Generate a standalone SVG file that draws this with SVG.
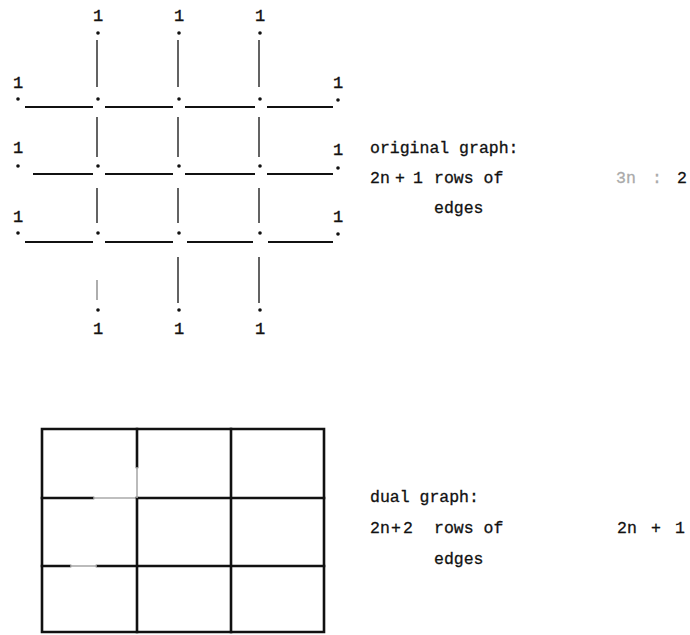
<svg xmlns="http://www.w3.org/2000/svg" width="690" height="635" viewBox="0 0 690 635">
<style>
  .bg{fill:#fff}
  .dot{fill:#111}
  .lbl{font-family:"Liberation Mono","DejaVu Sans Mono",monospace;font-size:17px;fill:#111;stroke:#111;stroke-width:0.4;text-anchor:middle}
  .txt{font-family:"Liberation Mono","DejaVu Sans Mono",monospace;font-size:16.5px;fill:#111;stroke:#111;stroke-width:0.3}
  .h{stroke:#111;stroke-width:2;fill:none}
  .v{stroke:#222;stroke-width:1.4;fill:none}
  .vf{stroke:#777;stroke-width:1.2;fill:none}
  .d{stroke:#111;stroke-width:2.6;fill:none;stroke-linecap:square}
  .df{stroke:#aaa;stroke-width:1.6;fill:none}
  .fade{fill:#aaa;stroke:#aaa}
</style>
<rect class="bg" x="0" y="0" width="690" height="635"/>

<!-- original graph: edges -->
<g id="connectors">
  <path class="h" d="M25 107H93M105 107H173M185 107H255M267 107H333"/>
  <path class="h" d="M33 174H93M105 174H173M185 174H255M267 174H333"/>
  <path class="h" d="M25 242H93M105 242H173M187 242H253M268 242H333"/>
  <path class="v" d="M97 40V87M178 40V87M259 40V87"/>
  <path class="v" d="M97 117V157M178 117V157M259 117V157"/>
  <path class="v" d="M97 188V223M178 188V223M259 188V223"/>
  <path class="vf" d="M97 280V300"/>
  <path class="v" d="M178 257V303M259 257V303"/>
</g>

<!-- original graph: vertices -->
<g id="t1"><text class="lbl" x="98" y="21">1</text><circle class="dot" cx="98" cy="33" r="1.8"/></g>
<g id="t2"><text class="lbl" x="179" y="21">1</text><circle class="dot" cx="179" cy="33" r="1.8"/></g>
<g id="t3"><text class="lbl" x="260" y="21">1</text><circle class="dot" cx="260" cy="33" r="1.8"/></g>

<g id="l1"><text class="lbl" x="18" y="88">1</text><circle class="dot" cx="18" cy="99" r="1.8"/></g>
<g id="v11"><circle class="dot" cx="98" cy="99" r="1.8"/></g>
<g id="v12"><circle class="dot" cx="179" cy="99" r="1.8"/></g>
<g id="v13"><circle class="dot" cx="260" cy="99" r="1.8"/></g>
<g id="r1"><text class="lbl" x="338" y="88">1</text><circle class="dot" cx="338" cy="100" r="1.8"/></g>

<g id="l2"><text class="lbl" x="18" y="153">1</text><circle class="dot" cx="18" cy="166" r="1.8"/></g>
<g id="v21"><circle class="dot" cx="98" cy="166" r="1.8"/></g>
<g id="v22"><circle class="dot" cx="179" cy="166" r="1.8"/></g>
<g id="v23"><circle class="dot" cx="260" cy="166" r="1.8"/></g>
<g id="r2"><text class="lbl" x="338" y="155">1</text><circle class="dot" cx="338" cy="168" r="1.8"/></g>

<g id="l3"><text class="lbl" x="18" y="222">1</text><circle class="dot" cx="18" cy="233" r="1.8"/></g>
<g id="v31"><circle class="dot" cx="98" cy="233" r="1.8"/></g>
<g id="v32"><circle class="dot" cx="179" cy="233" r="1.8"/></g>
<g id="v33"><circle class="dot" cx="260" cy="233" r="1.8"/></g>
<g id="r3"><text class="lbl" x="338" y="222">1</text><circle class="dot" cx="338" cy="234" r="1.8"/></g>

<g id="b1"><circle class="dot" cx="98" cy="310" r="1.8"/><text class="lbl" x="98" y="334">1</text></g>
<g id="b2"><circle class="dot" cx="179" cy="310" r="1.8"/><text class="lbl" x="179" y="334">1</text></g>
<g id="b3"><circle class="dot" cx="260" cy="310" r="1.8"/><text class="lbl" x="260" y="334">1</text></g>

<!-- original graph caption -->
<g id="caption-original">
  <text class="txt" x="370" y="153">original graph:</text>
  <text class="txt" x="370" y="183">2n<tspan x="395">+</tspan><tspan x="413">1</tspan></text>
  <text class="txt" x="434" y="183">rows of</text>
  <text class="txt" y="183"><tspan class="fade" x="616">3n</tspan><tspan class="fade" x="652">:</tspan><tspan x="677">2</tspan></text>
  <text class="txt" x="434" y="213">edges</text>
</g>

<!-- dual graph -->
<g id="dual">
  <path class="d" d="M42 429H324V632H42Z"/>
  <path class="d" d="M42 498H93M137 498H324"/>
  <path class="df" d="M93 498H137"/>
  <path class="d" d="M42 566H70M97 566H324"/>
  <path class="df" d="M70 566H97"/>
  <path class="d" d="M137 429V467M137 498V632"/>
  <path class="df" d="M137 467V498"/>
  <path class="d" d="M231 429V632"/>
</g>

<g id="caption-dual">
  <text class="txt" x="370" y="502">dual graph:</text>
  <text class="txt" x="370" y="533">2n<tspan x="391">+</tspan><tspan x="403">2</tspan></text>
  <text class="txt" x="434" y="533">rows of</text>
  <text class="txt" x="617" y="533">2n<tspan x="651">+</tspan><tspan x="675">1</tspan></text>
  <text class="txt" x="434" y="564">edges</text>
</g>
</svg>
